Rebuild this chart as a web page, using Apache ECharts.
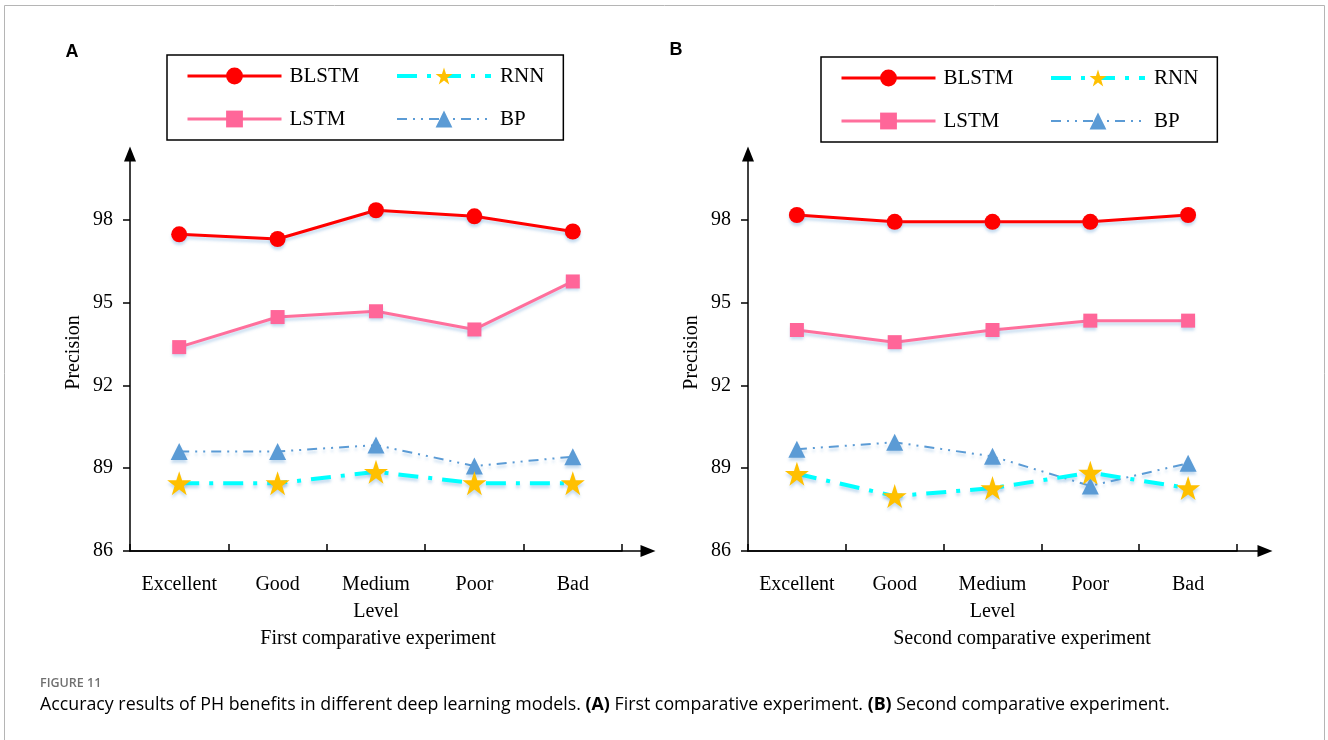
<!DOCTYPE html>
<html>
<head>
<meta charset="utf-8">
<script src="https://cdn.jsdelivr.net/npm/echarts@6/dist/echarts.min.js"></script>
<style>
html,body{margin:0;padding:0;background:#fff;}
#c{width:1328px;height:740px;}
</style>
</head>
<body>
<div id="c"></div>
<script>
// ---- data ----
const levels = ['Excellent', 'Good', 'Medium', 'Poor', 'Bad'];
const yTicks = [86, 89, 92, 95, 98];
const seriesNames = ['BLSTM', 'LSTM', 'RNN', 'BP'];

const blstmA = [97.48, 97.31, 98.35, 98.13, 97.58];
const lstmA  = [93.39, 94.48, 94.69, 94.03, 95.77];
const rnnA   = [88.46, 88.46, 88.87, 88.46, 88.46];
const bpA    = [89.61, 89.61, 89.84, 89.08, 89.42];

const blstmB = [98.18, 97.93, 97.93, 97.93, 98.18];
const lstmB  = [94.01, 93.57, 94.01, 94.35, 94.35];
const rnnB   = [88.80, 87.99, 88.28, 88.84, 88.28];
const bpB    = [89.69, 89.94, 89.43, 88.36, 89.18];

const subtitleA = 'First comparative experiment';
const subtitleB = 'Second comparative experiment';

// ---- styles ----
const SERIF = '"Liberation Serif", "Times New Roman", serif';
const SANS = '"Liberation Sans", Arial, sans-serif';
const shadow = {shadowColor: 'rgba(91,155,213,0.35)', shadowBlur: 3, shadowOffsetY: 3};
const STAR = 'path://M50,0 L61.8,35.5 L99,35.5 L69,57.5 L80.5,93 L50,71 L19.5,93 L31,57.5 L1,35.5 L38.2,35.5 Z';

const styles = {
  BLSTM: {symbol: 'circle', symbolSize: 16, lineStyle: {color: '#ff0000', width: 3, type: 'solid', ...shadow}, itemStyle: {color: '#ff0000', ...shadow}, z: 5},
  LSTM: {symbol: 'rect', symbolSize: 14, lineStyle: {color: '#ff6f9c', width: 3, type: 'solid', ...shadow}, itemStyle: {color: '#ff6699', ...shadow}, z: 4},
  RNN: {symbol: STAR, symbolSize: 24, lineStyle: {color: '#00ffff', width: 4, type: [20, 10, 4, 10], ...shadow}, itemStyle: {color: '#ffc000', ...shadow}, z: 3},
  BP: {symbol: 'triangle', symbolSize: 17, lineStyle: {color: '#5b9bd5', width: 2, type: [10, 6, 2, 6, 2, 6], ...shadow}, itemStyle: {color: '#5b9bd5', ...shadow}, z: 2}
};

const Y_MIN = 86, Y_MAX = 100.39;
const TOP = 154, HEIGHT = 397;

function panel(idx, left, frameWidth, dataWidth) {
  const fx = idx * 2, dx = idx * 2 + 1;
  const grids = [
    {left: left, top: TOP, width: frameWidth, height: HEIGHT},
    {left: left, top: TOP, width: dataWidth, height: HEIGHT}
  ];
  const xAxes = [
    {gridIndex: fx, type: 'value', min: 0, max: 1,
     axisLine: {show: true, symbol: ['none', 'triangle'], symbolSize: [12, 15], lineStyle: {color: '#000', width: 1.5}},
     axisTick: {show: false}, axisLabel: {show: false}, splitLine: {show: false}},
    {gridIndex: dx, type: 'category', data: levels, boundaryGap: true,
     axisLine: {show: true, lineStyle: {color: '#000', width: 1.5}},
     axisTick: {show: true, inside: true, length: 7, interval: 0, lineStyle: {color: '#000', width: 1.5}},
     axisLabel: {show: true, interval: 0, margin: 24, fontFamily: SERIF, fontSize: 20, color: '#000'},
     name: 'Level', nameLocation: 'middle', nameGap: 51,
     nameTextStyle: {fontFamily: SERIF, fontSize: 20, color: '#000'},
     splitLine: {show: false}}
  ];
  const yAxes = [
    {gridIndex: fx, type: 'value', min: Y_MIN, max: Y_MAX,
     axisLine: {show: true, symbol: ['none', 'triangle'], symbolSize: [12, 15], lineStyle: {color: '#000', width: 1.5}},
     axisTick: {show: true, length: 7, customValues: yTicks, lineStyle: {color: '#000', width: 1.5}},
     axisLabel: {show: true, customValues: yTicks, margin: 17, fontFamily: SERIF, fontSize: 20, color: '#000'},
     splitLine: {show: false},
     name: 'Precision', nameLocation: 'middle', nameRotate: 90, nameGap: 46,
     nameTextStyle: {fontFamily: SERIF, fontSize: 20, color: '#000'}},
    {gridIndex: dx, type: 'value', min: Y_MIN, max: Y_MAX, show: false, splitLine: {show: false}}
  ];
  return {grids, xAxes, yAxes};
}

const pA = panel(0, 130, 518, 492);
const pB = panel(1, 748, 517, 489);

function makeSeries(name, data, axisIdx) {
  const s = styles[name];
  return {
    name: name, type: 'line', data: data,
    xAxisIndex: axisIdx, yAxisIndex: axisIdx,
    symbol: s.symbol, symbolSize: s.symbolSize,
    lineStyle: s.lineStyle, itemStyle: s.itemStyle, z: s.z,
    emphasis: {disabled: true}
  };
}

const series = [
  makeSeries('BP', bpA, 1), makeSeries('RNN', rnnA, 1), makeSeries('LSTM', lstmA, 1), makeSeries('BLSTM', blstmA, 1),
  makeSeries('BP', bpB, 3), makeSeries('RNN', rnnB, 3), makeSeries('LSTM', lstmB, 3), makeSeries('BLSTM', blstmB, 3)
];

function legend(left, top) {
  return {
    data: seriesNames.map(function (n) {
      const s = styles[n];
      return {name: n, lineStyle: {width: s.lineStyle.width, type: s.lineStyle.type, color: s.lineStyle.color}};
    }),
    orient: 'vertical', left: left, top: top, height: 70,
    padding: [9, 19, 9, 19], itemGap: 19, itemWidth: 94, itemHeight: 21,
    borderColor: '#000', borderWidth: 1.5, selectedMode: false,
    formatter: function (name) { return (name === 'BLSTM' || name === 'LSTM') ? '{a|' + name + '}' : '{b|' + name + '}'; },
    textStyle: {
      fontFamily: SERIF, fontSize: 21, color: '#000',
      rich: {
        a: {width: 87, lineHeight: 24, height: 24, padding: [0, 0, 0, 3], fontFamily: SERIF, fontSize: 21, color: '#000'},
        b: {width: 37, lineHeight: 24, height: 24, padding: [0, 0, 0, 4], fontFamily: SERIF, fontSize: 21, color: '#000'}
      }
    }
  };
}

const captionRich = {
  n: {fontFamily: '"Open Sans", sans-serif', fontSize: 17.8, color: '#5a5a5a', fontWeight: 400},
  b: {fontFamily: '"Open Sans", sans-serif', fontSize: 17.8, color: '#5a5a5a', fontWeight: 700}
};

const option = {
  animation: false,
  backgroundColor: '#fff',
  grid: [...pA.grids, ...pB.grids],
  xAxis: [...pA.xAxes, ...pB.xAxes],
  yAxis: [...pA.yAxes, ...pB.yAxes],
  legend: [legend(167, 55), legend(821, 57)],
  series: series,
  graphic: [
    {type: 'rect', silent: true, z: -10, shape: {x: 4.5, y: 5.5, width: 1320, height: 800}, style: {fill: 'none', stroke: '#b5b5b5', lineWidth: 1}},
    {type: 'text', silent: true, style: {x: 72, y: 52, text: 'A', align: 'center', verticalAlign: 'middle', font: 'bold 18px ' + SANS, fill: '#000'}},
    {type: 'text', silent: true, style: {x: 676, y: 50, text: 'B', align: 'center', verticalAlign: 'middle', font: 'bold 18px ' + SANS, fill: '#000'}},
    {type: 'text', silent: true, style: {x: 378, y: 639, text: subtitleA, align: 'center', verticalAlign: 'middle', font: '20px ' + SERIF, fill: '#000'}},
    {type: 'text', silent: true, style: {x: 1022, y: 639, text: subtitleB, align: 'center', verticalAlign: 'middle', font: '20px ' + SERIF, fill: '#000'}},
    {type: 'text', silent: true, style: {x: 40, y: 683, text: 'FIGURE 11', align: 'left', verticalAlign: 'middle', font: '600 12.5px "Open Sans", sans-serif', fill: '#707070'}},
    {type: 'text', silent: true, style: {x: 40, y: 705, align: 'left', verticalAlign: 'middle',
      text: '{n|Accuracy results of PH benefits in different deep learning models. }{b|(A)}{n| First comparative experiment. }{b|(B)}{n| Second comparative experiment.}',
      rich: captionRich}}
  ]
};

const chart = echarts.init(document.getElementById('c'), null, {renderer: 'canvas'});
chart.setOption(option);
</script>
</body>
</html>
